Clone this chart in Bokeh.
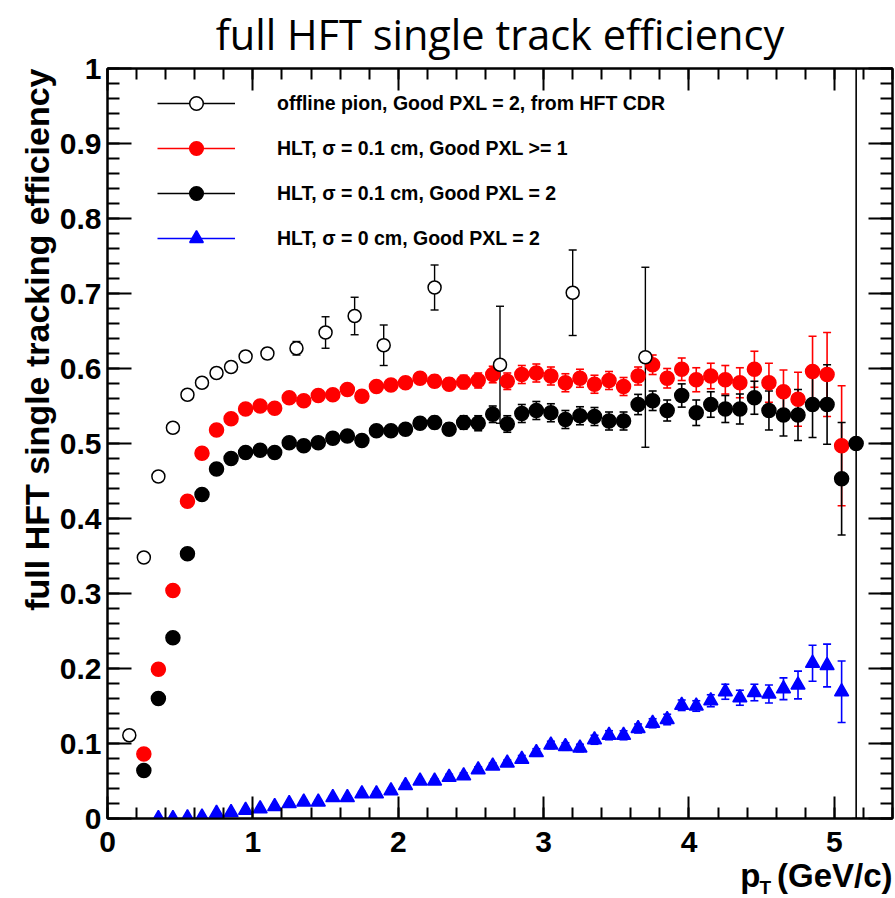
import numpy as np
from bokeh.plotting import figure
from bokeh.models import (ColumnDataSource, Whisker, TeeHead, LinearAxis, Range1d, Title,
                          Legend, LegendItem, Label, FixedTicker, NumeralTickFormatter)
from bokeh.embed import file_html
from bokeh.resources import INLINE

# ---------------- data ----------------
off_x = [0.15, 0.25, 0.35, 0.45, 0.55, 0.65, 0.75, 0.85, 0.95, 1.1, 1.3, 1.5, 1.7, 1.9, 2.25, 2.7, 3.2, 3.7]
off_y = [0.111, 0.348, 0.456, 0.521, 0.565, 0.581, 0.594, 0.602, 0.616, 0.620, 0.627, 0.648, 0.670, 0.631, 0.708, 0.605, 0.701, 0.615]
off_e = [0.003, 0.004, 0.005, 0.005, 0.006, 0.006, 0.006, 0.007, 0.007, 0.007, 0.009, 0.021, 0.025, 0.027, 0.030, 0.078, 0.057, 0.120]

red_x = [0.25, 0.35, 0.45, 0.55, 0.65, 0.75, 0.85, 0.95, 1.05, 1.15, 1.25, 1.35, 1.45, 1.55, 1.65, 1.75, 1.85, 1.95,
         2.05, 2.15, 2.25, 2.35, 2.45, 2.55, 2.65, 2.75, 2.85, 2.95, 3.05, 3.15, 3.25, 3.35, 3.45, 3.55, 3.65, 3.75,
         3.85, 3.95, 4.05, 4.15, 4.25, 4.35, 4.45, 4.55, 4.65, 4.75, 4.85, 4.95, 5.05]
red_y = [0.086, 0.199, 0.304, 0.423, 0.487, 0.518, 0.533, 0.546, 0.550, 0.547, 0.561, 0.557, 0.564, 0.565, 0.572, 0.563, 0.576, 0.578,
         0.581, 0.587, 0.583, 0.579, 0.582, 0.584, 0.592, 0.583, 0.592, 0.594, 0.590, 0.581, 0.587, 0.579, 0.584, 0.576, 0.590, 0.605,
         0.587, 0.599, 0.585, 0.590, 0.585, 0.581, 0.599, 0.581, 0.569, 0.559, 0.596, 0.592, 0.497]
red_e = [0.002, 0.002, 0.002, 0.003, 0.003, 0.003, 0.003, 0.003, 0.003, 0.004, 0.004, 0.004, 0.005, 0.005, 0.005, 0.006, 0.006, 0.006,
         0.007, 0.007, 0.008, 0.008, 0.009, 0.010, 0.011, 0.011, 0.012, 0.012, 0.012, 0.012, 0.012, 0.012, 0.012, 0.012, 0.012, 0.013,
         0.013, 0.015, 0.016, 0.017, 0.019, 0.020, 0.024, 0.026, 0.029, 0.036, 0.047, 0.056, 0.080]

blk_x = [0.25, 0.35, 0.45, 0.55, 0.65, 0.75, 0.85, 0.95, 1.05, 1.15, 1.25, 1.35, 1.45, 1.55, 1.65, 1.75, 1.85, 1.95,
         2.05, 2.15, 2.25, 2.35, 2.45, 2.55, 2.65, 2.75, 2.85, 2.95, 3.05, 3.15, 3.25, 3.35, 3.45, 3.55, 3.65, 3.75,
         3.85, 3.95, 4.05, 4.15, 4.25, 4.35, 4.45, 4.55, 4.65, 4.75, 4.85, 4.95, 5.05, 5.15]
blk_y = [0.064, 0.160, 0.241, 0.353, 0.432, 0.466, 0.480, 0.488, 0.491, 0.488, 0.501, 0.497, 0.501, 0.507, 0.510, 0.504, 0.517, 0.517,
         0.519, 0.527, 0.528, 0.519, 0.528, 0.527, 0.539, 0.526, 0.540, 0.544, 0.541, 0.532, 0.537, 0.536, 0.530, 0.530, 0.552, 0.557,
         0.544, 0.564, 0.541, 0.552, 0.546, 0.546, 0.561, 0.544, 0.538, 0.538, 0.552, 0.552, 0.453, 0.500]
blk_e = [0.002, 0.002, 0.002, 0.003, 0.003, 0.003, 0.003, 0.003, 0.003, 0.004, 0.004, 0.004, 0.005, 0.005, 0.005, 0.006, 0.006, 0.006,
         0.007, 0.007, 0.008, 0.008, 0.009, 0.010, 0.011, 0.011, 0.012, 0.012, 0.012, 0.012, 0.012, 0.012, 0.012, 0.012, 0.0135, 0.013,
         0.014, 0.0155, 0.017, 0.017, 0.018, 0.020, 0.022, 0.026, 0.028, 0.034, 0.044, 0.053, 0.075, 0.500]

blu_x = [0.35, 0.45, 0.55, 0.65, 0.75, 0.85, 0.95, 1.05, 1.15, 1.25, 1.35, 1.45, 1.55, 1.65, 1.75, 1.85, 1.95,
         2.05, 2.15, 2.25, 2.35, 2.45, 2.55, 2.65, 2.75, 2.85, 2.95, 3.05, 3.15, 3.25, 3.35, 3.45, 3.55, 3.65, 3.75,
         3.85, 3.95, 4.05, 4.15, 4.25, 4.35, 4.45, 4.55, 4.65, 4.75, 4.85, 4.95, 5.05]
blu_y = [0.000, 0.000, 0.001, 0.002, 0.007, 0.008, 0.011, 0.013, 0.016, 0.020, 0.022, 0.022, 0.028, 0.028, 0.033, 0.033, 0.037,
         0.044, 0.050, 0.050, 0.055, 0.057, 0.065, 0.070, 0.074, 0.079, 0.088, 0.098, 0.096, 0.094, 0.105, 0.111, 0.111, 0.120, 0.127,
         0.132, 0.151, 0.150, 0.157, 0.169, 0.161, 0.168, 0.166, 0.173, 0.178, 0.207, 0.204, 0.169]
blu_e = [0.000, 0.000, 0.001, 0.001, 0.001, 0.001, 0.001, 0.001, 0.002, 0.002, 0.002, 0.002, 0.002, 0.002, 0.003, 0.003, 0.003,
         0.003, 0.003, 0.003, 0.004, 0.004, 0.004, 0.004, 0.004, 0.005, 0.005, 0.005, 0.005, 0.005, 0.006, 0.006, 0.006, 0.006, 0.006,
         0.007, 0.007, 0.007, 0.008, 0.010, 0.010, 0.011, 0.012, 0.0145, 0.0185, 0.024, 0.0285, 0.041]

legend_labels = ["offline pion, Good PXL = 2, from HFT CDR",
                 "HLT, \u03c3 = 0.1 cm, Good PXL >= 1",
                 "HLT, \u03c3 = 0.1 cm, Good PXL = 2",
                 "HLT, \u03c3 = 0 cm, Good PXL = 2"]

x_ticks = [0, 1, 2, 3, 4, 5]
x_tick_labels = ["0", "1", "2", "3", "4", "5"]
y_ticks = [0, 0.1, 0.2, 0.3, 0.4, 0.5, 0.6, 0.7, 0.8, 0.9, 1]
y_tick_labels = ["0", "0.1", "0.2", "0.3", "0.4", "0.5", "0.6", "0.7", "0.8", "0.9", "1"]
x_minor = [i * 0.2 for i in range(28)]
y_minor = [i * 0.02 for i in range(51)]

title_text = "full HFT single track efficiency"
y_title = "full HFT single tracking efficiency"
x_title_main = "p\u2002(GeV/c)"
x_title_sub = "T"

FONT = "Liberation Sans"

p = figure(width=894, height=897, x_range=Range1d(0, 5.4), y_range=Range1d(0, 1),
           output_backend="svg", toolbar_location=None,
           x_axis_location=None, y_axis_location=None,
           min_border_left=107, min_border_right=2, min_border_top=68, min_border_bottom=79)
p.grid.visible = False
p.background_fill_color = "white"
p.border_fill_color = "white"
p.outline_line_color = "black"
p.outline_line_width = 2

p.title.text = title_text
p.title.text_font = "Open Sans"
p.title.text_font_size = "41.5px"
p.title.text_font_style = "normal"
p.title.text_color = "black"
p.title.align = "center"
p.title.vertical_align = "top"
p.title.standoff = 10


def make_axis(ticks, labels, minor, tin, minin, show):
    ax = LinearAxis(ticker=FixedTicker(ticks=ticks, minor_ticks=minor),
                    major_tick_in=tin, major_tick_out=0,
                    minor_tick_in=minin, minor_tick_out=0,
                    major_tick_line_width=2, minor_tick_line_width=2,
                    axis_line_width=2, axis_line_color="black",
                    major_tick_line_color="black", minor_tick_line_color="black")
    if show:
        ax.formatter = NumeralTickFormatter(format="0.[0]")
        ax.major_label_overrides = dict(zip(ticks, labels))
        ax.major_label_text_font = FONT
        ax.major_label_text_font_style = "bold"
        ax.major_label_text_font_size = "30px"
        ax.major_label_text_color = "black"
    else:
        ax.major_label_overrides = {t: "" for t in ticks}
        ax.major_label_text_font_size = "1px"
        ax.major_label_standoff = 0
    return ax


xb = make_axis(x_ticks, x_tick_labels, x_minor, 22, 11, True)
xb.major_label_standoff = 13
p.add_layout(xb, "below")
xt = make_axis(x_ticks, x_tick_labels, x_minor, 22, 11, False)
p.add_layout(xt, "above")
yl = make_axis(y_ticks, y_tick_labels, y_minor, 24, 12, True)
yl.major_label_standoff = 6
p.add_layout(yl, "left")
yr = make_axis(y_ticks, y_tick_labels, y_minor, 24, 12, False)
p.add_layout(yr, "right")

# axis titles (ROOT style: aligned to the far end of the axis)
p.add_layout(Title(text=y_title, align="right", text_font=FONT, text_font_style="bold",
                   text_font_size="34px", text_color="black", standoff=1), "left")
p.add_layout(Title(text=x_title_main, align="right", text_font=FONT, text_font_style="bold",
                   text_font_size="33px", text_color="black", standoff=0), "below")
# subscript T: a label that lives in the left side panel (side-panel annotations are not clipped)
p.add_layout(Label(x=4.485, y=-0.092, x_units="data", y_units="data", text=x_title_sub,
                   text_align="left", text_baseline="alphabetic",
                   text_font=FONT, text_font_style="bold", text_font_size="19px",
                   text_color="black"), "left")


def series(xs, ys, es, color, marker, fill, size, lw_err):
    src = ColumnDataSource(dict(x=xs, y=ys,
                                lo=[y - e for y, e in zip(ys, es)],
                                hi=[y + e for y, e in zip(ys, es)]))
    w = Whisker(source=src, base="x", lower="lo", upper="hi",
                line_color=color, line_width=lw_err,
                upper_head=TeeHead(size=8, line_color=color, line_width=lw_err),
                lower_head=TeeHead(size=8, line_color=color, line_width=lw_err))
    p.add_layout(w)
    r = p.scatter(x="x", y="y", source=src, marker=marker, size=size,
                  fill_color=fill, line_color=color, line_width=1.5)
    return r


r_red = series(red_x, red_y, red_e, "#ff0000", "circle", "#ff0000", 14, 1.6)
r_blk = series(blk_x, blk_y, blk_e, "black", "circle", "black", 14, 1.6)
r_blu = series(blu_x, blu_y, blu_e, "#0000ff", "triangle", "#0000ff", 14, 1.6)
r_off = series(off_x, off_y, off_e, "black", "circle", "white", 13, 1.4)

# legend proxies: a line with a single undefined point (draws nothing in the plot)
leg_colors = ["black", "#ff0000", "black", "#0000ff"]
leg_lines = [p.line(x=[np.nan], y=[np.nan], line_color=c, line_width=1.5) for c in leg_colors]
marks = [r_off, r_red, r_blk, r_blu]
items = [LegendItem(label=lab, renderers=[ln, mk]) for lab, ln, mk in zip(legend_labels, leg_lines, marks)]
legend = Legend(items=items, location=(50, 563), glyph_width=78, glyph_height=34,
                label_standoff=42, spacing=11, padding=0, margin=0,
                border_line_alpha=0, background_fill_alpha=0,
                label_text_font=FONT, label_text_font_style="bold",
                label_text_font_size="19.5px", label_text_color="black")
p.add_layout(legend)

open("out.html", "w").write(file_html(p, INLINE))
